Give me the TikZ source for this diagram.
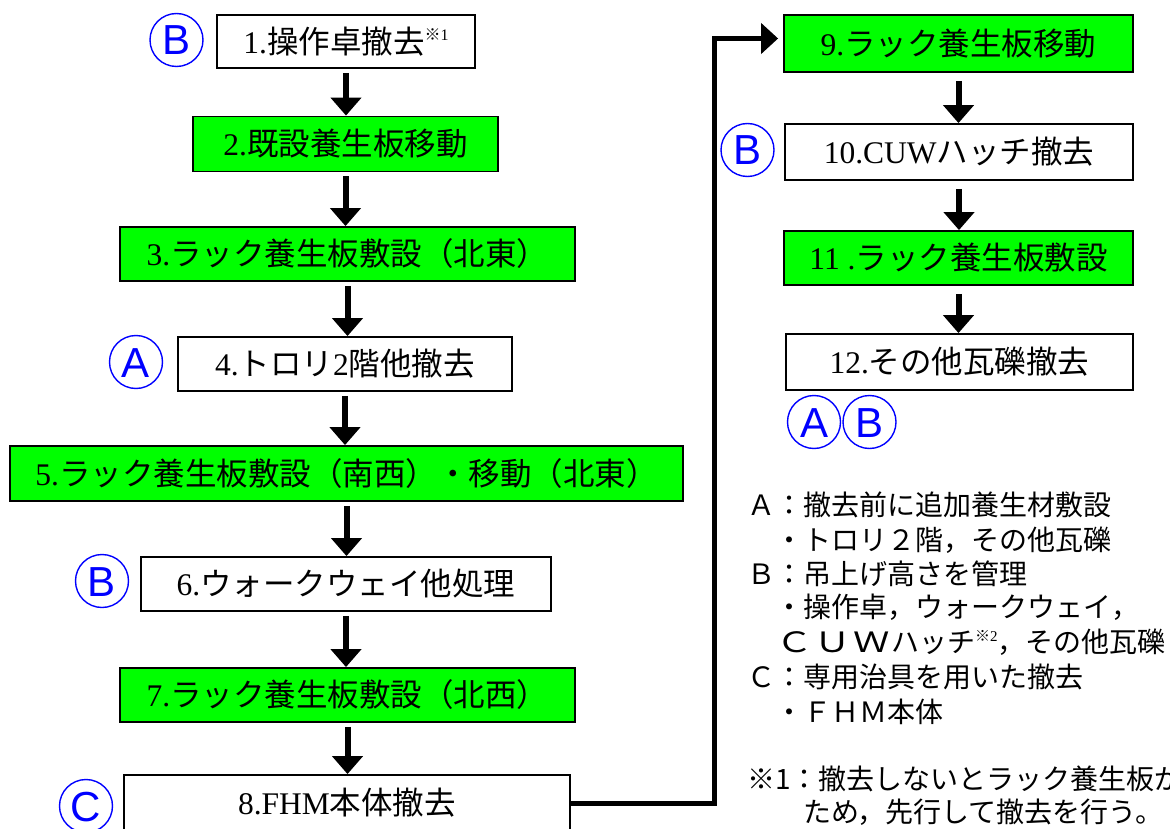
\documentclass[tikz,border=0pt]{standalone}
\usepackage{fontspec}
\usepackage{graphicx}
\setmainfont{Liberation Serif}
\newfontfamily\jp{Noto Sans CJK JP}
\newfontfamily\lsans{Liberation Sans}
\usetikzlibrary{arrows.meta}
\newcommand{\J}[1]{{\jp #1}}
\newcommand{\supnote}[1]{\raisebox{13pt}{\fontsize{16}{16}\selectfont\J{※}#1}}
\newcommand{\legsup}[1]{\raisebox{11pt}{\fontsize{15}{15}\selectfont\J{※}{\rmfamily #1}}}
\newcommand{\wide}[1]{\makebox[38.6pt][c]{\scalebox{1.3}[1]{#1}}}
\definecolor{boxgreen}{HTML}{00FF00}
\begin{document}
\begin{tikzpicture}[x=1pt,y=-1pt,
  stepbox/.style={draw=black,line width=1.8pt,inner sep=0pt,
    font=\fontsize{31.5}{36}\selectfont,text height=27pt,text depth=3.8pt},
  greenbox/.style={stepbox,fill=boxgreen},
  whitebox/.style={stepbox,fill=white},
  tag/.style={circle,draw=blue,line width=1.4pt,minimum size=53pt,inner sep=0pt,
    text=blue,font=\lsans\fontsize{42}{42}\selectfont,text height=30pt,text depth=0pt},
  flow/.style={line width=6pt,-{Triangle[width=30pt,length=18pt]}},
  link/.style={line width=5pt,-{Triangle[width=30pt,length=17pt]}},
  legend/.style={anchor=west,inner sep=0pt,font=\jp\fontsize{28}{32}\selectfont,
    text height=24pt,text depth=3.4pt}]

\clip (0,0) rectangle (1170,829);
\fill[white] (0,0) rectangle (1170,829);

% left column
\node[whitebox,minimum width=258pt,minimum height=53pt] (b1) at (346,41.5)
  {1.\J{操作卓撤去}\supnote{1}};
\node[greenbox,minimum width=305pt,minimum height=55pt] (b2) at (345.5,144)
  {2.\J{既設養生板移動}};
\node[greenbox,minimum width=455pt,minimum height=54pt] (b3) at (347.5,254)
  {3.\J{ラック養生板敷設（北東）}};
\node[whitebox,minimum width=334pt,minimum height=54pt] (b4) at (345,364)
  {4.\J{トロリ}2\J{階他撤去}};
\node[greenbox,minimum width=673pt,minimum height=55pt] (b5) at (346.5,473.5)
  {5.\J{ラック養生板敷設（南西）・移動（北東）}};
\node[whitebox,minimum width=410pt,minimum height=54pt] (b6) at (346,584)
  {6.\J{ウォークウェイ他処理}};
\node[greenbox,minimum width=455pt,minimum height=54pt] (b7) at (347.5,695)
  {7.\J{ラック養生板敷設（北西）}};
\node[whitebox,minimum width=446pt,minimum height=56pt] (b8) at (347,803)
  {8.FHM\J{本体撤去}};

% right column
\node[greenbox,minimum width=349pt,minimum height=57pt] (b9) at (958.5,43.5)
  {9.\J{ラック養生板移動}};
\node[whitebox,minimum width=348pt,minimum height=56pt] (b10) at (959,152)
  {10.CUW\J{ハッチ撤去}};
\node[greenbox,minimum width=349pt,minimum height=54pt] (b11) at (958.5,258)
  {11 .\J{ラック養生板敷設}};
\node[whitebox,minimum width=347pt,minimum height=56pt] (b12) at (959.5,362)
  {12.\J{その他瓦礫撤去}};

% tags
\node[tag] (t1) at (176.5,40) {B};
\node[tag] (t4) at (136,362) {A};
\node[tag] (t6) at (102,581) {B};
\node[tag] (t8) at (86,806) {C};
\node[tag] (t10) at (747.5,150) {B};
\node[tag] (t12a) at (814,422) {A};
\node[tag] (t12b) at (869.5,422) {B};

% arrows
\draw[flow] ([yshift=-4pt]b1.south) -- (b1.south |- b2.north);
\draw[flow] ([yshift=-4pt]b2.south) -- (b2.south |- b3.north);
\draw[flow] ([yshift=-4pt]b3.south) -- (b3.south |- b4.north);
\draw[flow] ([yshift=-4pt]b4.south) -- (b4.south |- b5.north);
\draw[flow] ([yshift=-4pt]b5.south) -- (b5.south |- b6.north);
\draw[flow] ([yshift=-4pt]b6.south) -- (b6.south |- b7.north);
\draw[flow] ([yshift=-4pt]b7.south) -- (b7.south |- b8.north);
\draw[flow] ([yshift=-8pt]b9.south) -- (b9.south |- b10.north);
\draw[flow] ([yshift=-8pt]b10.south) -- (b10.south |- b11.north);
\draw[flow] ([yshift=-8pt]b11.south) -- (b11.south |- b12.north);

\coordinate (bend) at (714.5,38.5);
\draw[link] (b8.east) -| (bend) -- ([xshift=-5pt]bend -| b9.west);

% legend
\node[legend] (l1) at (747,505) {Ａ：撤去前に追加養生材敷設};
\node[legend] (l2) at (747,540) {　・トロリ２階，その他瓦礫};
\node[legend] (l3) at (747,574) {Ｂ：吊上げ高さを管理};
\node[legend] (l4) at (747,607) {　・操作卓，ウォークウェイ，};
\node[legend] (l5) at (775,642) {\wide{Ｃ}\wide{Ｕ}\wide{Ｗ}ハッチ\legsup{2}，その他瓦礫};
\node[legend] (l6) at (747,677) {Ｃ：専用治具を用いた撤去};
\node[legend] (l7) at (747,712) {　・ＦＨＭ本体};
\node[legend] (l8) at (747,779) {※1：撤去しないとラック養生板が};
\node[legend] (l9) at (803,812) {ため，先行して撤去を行う。};
\end{tikzpicture}
\end{document}
